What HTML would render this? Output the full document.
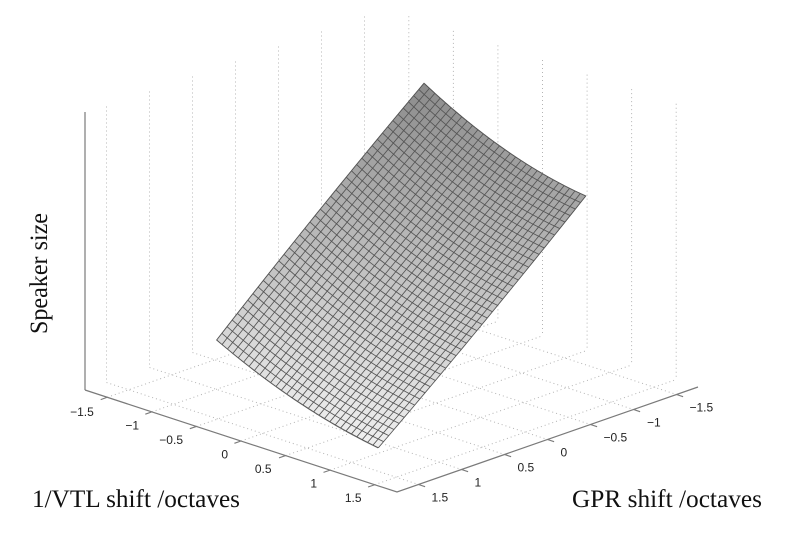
<!DOCTYPE html>
<html>
<head>
<meta charset="utf-8">
<style>
  html,body{margin:0;padding:0;background:#ffffff;}
  svg{display:block;}
  .tk{font-family:"Liberation Sans",Arial,sans-serif;font-size:12px;fill:#222;}
  .ttl{font-family:"Liberation Serif","Times New Roman",serif;font-size:25px;fill:#111;}
  .dot{stroke:#b4b4b4;stroke-width:1;stroke-dasharray:1 3;fill:none;}
  .ax{stroke:#7a7a7a;stroke-width:1.2;fill:none;}
</style>
</head>
<body>
<svg id="chart" width="800" height="543" viewBox="0 0 800 543" xmlns="http://www.w3.org/2000/svg">
  <rect x="0" y="0" width="800" height="543" fill="#ffffff"/>

  <g class="dot">
    <line x1="106.5" y1="106.5" x2="106.5" y2="382.5"/>
    <line x1="149.5" y1="91.5" x2="149.5" y2="367.5"/>
    <line x1="192.5" y1="76.5" x2="192.5" y2="352.5"/>
    <line x1="235.5" y1="61.5" x2="235.5" y2="337.5"/>
    <line x1="278.5" y1="46.5" x2="278.5" y2="322.5"/>
    <line x1="321.5" y1="31.5" x2="321.5" y2="307.5"/>
    <line x1="364.5" y1="16.5" x2="364.5" y2="292.5"/>
  </g>
  <g class="dot">
    <line x1="408.8" y1="16.3" x2="408.8" y2="292.3"/>
    <line x1="453.4" y1="30.9" x2="453.4" y2="306.9"/>
    <line x1="497.9" y1="45.4" x2="497.9" y2="321.4"/>
    <line x1="542.5" y1="60" x2="542.5" y2="336"/>
    <line x1="587.1" y1="74.6" x2="587.1" y2="350.6"/>
    <line x1="631.6" y1="89.1" x2="631.6" y2="365.1"/>
    <line x1="676.2" y1="103.7" x2="676.2" y2="379.7"/>
  </g>
  <g class="dot">
    <line x1="107.29" y1="397.29" x2="408.29" y2="292.29"/>
    <line x1="151.86" y1="411.86" x2="452.86" y2="306.86"/>
    <line x1="196.43" y1="426.43" x2="497.43" y2="321.43"/>
    <line x1="241" y1="441" x2="542" y2="336"/>
    <line x1="285.57" y1="455.57" x2="586.57" y2="350.57"/>
    <line x1="330.14" y1="470.14" x2="631.14" y2="365.14"/>
    <line x1="374.71" y1="484.71" x2="675.71" y2="379.71"/>
  </g>
  <g class="dot">
    <line x1="106.5" y1="382.5" x2="418.5" y2="484.5"/>
    <line x1="149.5" y1="367.5" x2="461.5" y2="469.5"/>
    <line x1="192.5" y1="352.5" x2="504.5" y2="454.5"/>
    <line x1="235.5" y1="337.5" x2="547.5" y2="439.5"/>
    <line x1="278.5" y1="322.5" x2="590.5" y2="424.5"/>
    <line x1="321.5" y1="307.5" x2="633.5" y2="409.5"/>
    <line x1="364.5" y1="292.5" x2="676.5" y2="394.5"/>
  </g>

  <g class="ax">
    <line x1="85" y1="112" x2="85" y2="390"/>
    <polyline points="85,390 397,492 698,387"/>
  </g>
  <g class="ax" style="stroke-width:1.1">
    <line x1="107.29" y1="397.29" x2="100.7" y2="399.6"/>
    <line x1="151.86" y1="411.86" x2="145.3" y2="414.2"/>
    <line x1="196.43" y1="426.43" x2="189.8" y2="428.7"/>
    <line x1="241" y1="441" x2="234.4" y2="443.3"/>
    <line x1="285.57" y1="455.57" x2="279" y2="457.9"/>
    <line x1="330.14" y1="470.14" x2="323.5" y2="472.4"/>
    <line x1="374.71" y1="484.71" x2="368.1" y2="487"/>
  </g>
  <g class="ax" style="stroke-width:1.1">
    <line x1="418.5" y1="484.5" x2="425.1" y2="486.7"/>
    <line x1="461.5" y1="469.5" x2="468.1" y2="471.7"/>
    <line x1="504.5" y1="454.5" x2="511.1" y2="456.7"/>
    <line x1="547.5" y1="439.5" x2="554.1" y2="441.7"/>
    <line x1="590.5" y1="424.5" x2="597.1" y2="426.7"/>
    <line x1="633.5" y1="409.5" x2="640.1" y2="411.7"/>
    <line x1="676.5" y1="394.5" x2="683.1" y2="396.7"/>
  </g>

  <g class="tk" text-anchor="end">
    <text x="93.8" y="416">−1.5</text>
    <text x="139" y="429.5">−1</text>
    <text x="183" y="444">−0.5</text>
    <text x="228" y="458.5">0</text>
    <text x="271.5" y="473">0.5</text>
    <text x="317" y="487.5">1</text>
    <text x="361.5" y="502">1.5</text>
  </g>
  <g class="tk" text-anchor="start">
    <text x="689.5" y="411.5">−1.5</text>
    <text x="647" y="426.5">−1</text>
    <text x="603.5" y="441.5">−0.5</text>
    <text x="560.5" y="456.5">0</text>
    <text x="517.5" y="471.5">0.5</text>
    <text x="474.5" y="486.5">1</text>
    <text x="431.5" y="501.5">1.5</text>
  </g>

  <defs>
    <linearGradient id="sg" x1="424" y1="83" x2="378" y2="448" gradientUnits="userSpaceOnUse">
      <stop offset="0" stop-color="#8a8a8a"/>
      <stop offset="0.55" stop-color="#c0c0c0"/>
      <stop offset="1" stop-color="#e6e6e6"/>
    </linearGradient>
  </defs>
  <path d="M424 83.3 Q504.85 159.65 585.7 196 Q481.7 326.85 377.7 447.7 Q297.2 408.85 216.7 340 Q320.35 206.65 424 83.3 Z" fill="url(#sg)" stroke="#555" stroke-width="1"/>
  <g id="surf"></g>

  <text class="ttl" x="32" y="507" textLength="208" lengthAdjust="spacingAndGlyphs">1/VTL shift /octaves</text>
  <text class="ttl" x="572" y="507" textLength="190" lengthAdjust="spacingAndGlyphs">GPR shift /octaves</text>
  <text class="ttl" transform="translate(47,334) rotate(-90)" x="0" y="0" textLength="121" lengthAdjust="spacingAndGlyphs">Speaker size</text>
</svg>
<script>
(function(){
  var g=document.getElementById('surf');
  function P(s,t){
    var x=424+161.7*s-207.3*t;
    var y=83.3+112.7*s+256.7*t-5*s*t+(40-10*t)*s*(1-s)+(-10+20*s)*t*(1-t);
    return [x,y];
  }
  function col(s,t){
    var p=P(s,t);
    var fy=322.97+52.74*s+72.3*t;
    var z=fy-p[1];
    var c=Math.round(240-0.42*z);
    if(c<128)c=128; if(c>242)c=242;
    return 'rgb('+c+','+c+','+c+')';
  }
  function f(v){return v.toFixed(2);}
  var NSC=30, NT=40, h='';
  for(var i=0;i<NSC;i++){
    for(var j=0;j<NT;j++){
      var s0=i/NSC,s1=(i+1)/NSC,t0=j/NT,t1=(j+1)/NT;
      var a=P(s0,t0),b=P(s1,t0),c=P(s1,t1),d=P(s0,t1);
      var cl=col((s0+s1)/2,(t0+t1)/2);
      h+='<path d="M'+f(a[0])+' '+f(a[1])+'L'+f(b[0])+' '+f(b[1])+'L'+f(c[0])+' '+f(c[1])+'L'+f(d[0])+' '+f(d[1])+'Z" fill="'+cl+'" stroke="'+cl+'" stroke-width="0.6"/>';
    }
  }
  var lines='';
  for(var i=0;i<=NSC;i++){
    var pts=[];
    for(var j=0;j<=NT;j++){var p=P(i/NSC,j/NT);pts.push(f(p[0])+','+f(p[1]));}
    lines+='<polyline points="'+pts.join(' ')+'"/>';
  }
  for(var j=0;j<=NT;j++){
    var pts=[];
    for(var i=0;i<=NSC;i++){var p=P(i/NSC,j/NT);pts.push(f(p[0])+','+f(p[1]));}
    lines+='<polyline points="'+pts.join(' ')+'"/>';
  }
  h+='<g fill="none" stroke="#555555" stroke-width="0.85" stroke-linejoin="round">'+lines+'</g>';
  g.innerHTML=h;
})();
</script>
</body>
</html>
